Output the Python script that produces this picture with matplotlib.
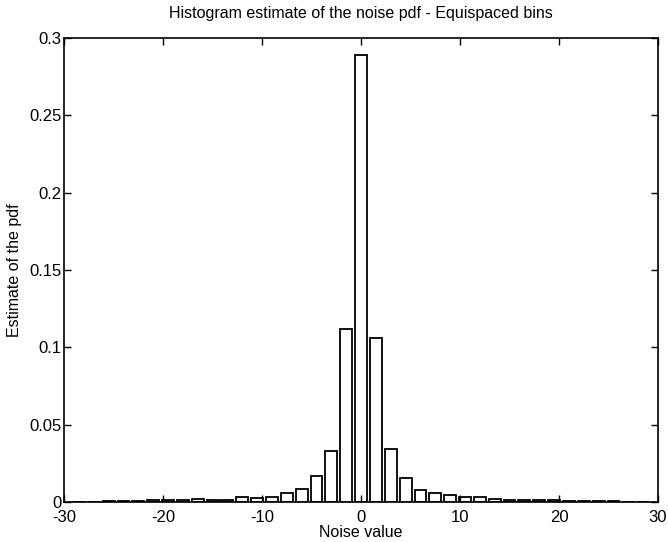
import numpy as np
import matplotlib.pyplot as plt

plt.rcParams['font.family'] = ['Liberation Sans', 'DejaVu Sans']
plt.rcParams['axes.unicode_minus'] = False

# bin centres (equispaced, step 1.5)
centers = np.arange(-28.5, 28.6, 1.5)

# estimated pdf per bin (left to right)
left_vals = [0.0001, 0.0002, 0.0003, 0.0006, 0.0008, 0.001, 0.0012, 0.0015, 0.0018,
             0.0013, 0.0013, 0.0032, 0.0026, 0.0034, 0.0056, 0.0082, 0.0168, 0.033, 0.112]
mid_val = [0.289]
right_vals = [0.106, 0.0343, 0.0153, 0.0078, 0.0056, 0.0043, 0.0034, 0.003, 0.0019,
              0.0013, 0.0012, 0.0012, 0.001, 0.0008, 0.0006, 0.0004, 0.0003, 0.0002, 0.0001]
pdf = left_vals + mid_val + right_vals

fig = plt.figure(figsize=(6.68, 5.42), dpi=100)
ax = fig.add_axes([0.096, 0.074, 0.889, 0.856])
ax.bar(centers, pdf, width=0.8 * 1.5, facecolor='white', edgecolor='black', linewidth=1.3)

ax.set_xlim(-30, 30)
ax.set_ylim(0, 0.3)
ax.set_xticks([-30, -20, -10, 0, 10, 20, 30])
ax.set_yticks([0, 0.05, 0.1, 0.15, 0.2, 0.25, 0.3])
ax.set_yticklabels(['0', '0.05', '0.1', '0.15', '0.2', '0.25', '0.3'])
ax.tick_params(direction='in', top=True, right=True, labelsize=12, length=5, width=1, pad=2)
ax.tick_params(axis='x', pad=6)
for s in ax.spines.values():
    s.set_linewidth(1.2)

ax.set_title('Histogram estimate of the noise pdf - Equispaced bins', fontsize=11.5, pad=14)
ax.set_xlabel('Noise value', fontsize=11.5, labelpad=0)
ax.set_ylabel('Estimate of the pdf', fontsize=11.5, labelpad=5)

fig.savefig('out.png', dpi=100)
